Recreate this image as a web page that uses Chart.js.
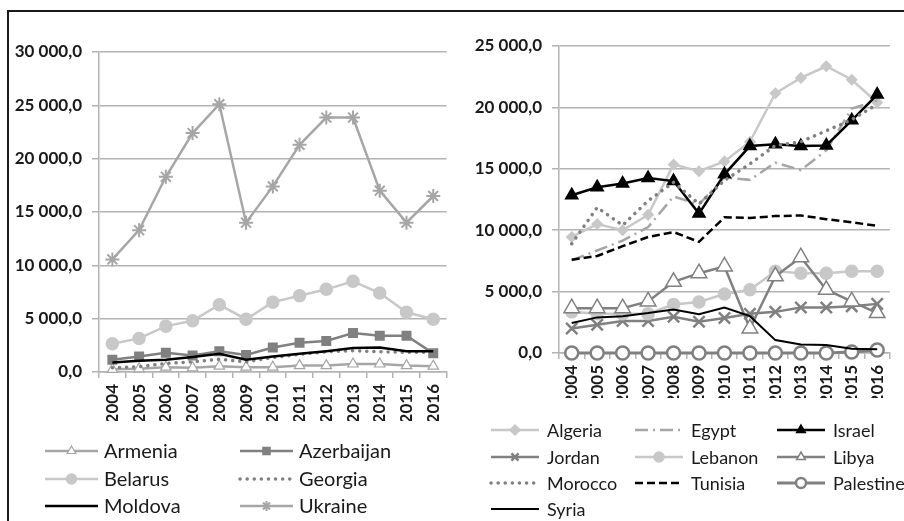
<!DOCTYPE html>
<html>
<head>
<meta charset="utf-8">
<script src="https://cdn.jsdelivr.net/npm/chart.js@4/dist/chart.umd.min.js"></script>
<style>
  body { margin: 0; width: 904px; height: 521px; overflow: hidden; background: #fff; }
  #frame { position: absolute; left: 7px; top: 10px; width: 1000px; height: 1000px;
           border-left: 2px solid #1a1a1a; border-top: 2px solid #1a1a1a; }
  canvas { position: absolute; top: 12px; }
  #left { left: 10px; }
  #right { left: 455px; }
</style>
</head>
<body>
<div id="frame"></div>
<canvas id="left" width="450" height="509"></canvas>
<canvas id="right" width="449" height="509"></canvas>
<script>
const years = ['2004', '2005', '2006', '2007', '2008', '2009', '2010', '2011', '2012', '2013', '2014', '2015', '2016'];

// left panel
const armenia    = [250, 300, 450, 400, 550, 450, 450, 600, 600, 750, 750, 600, 550];
const azerbaijan = [1150, 1450, 1800, 1550, 1950, 1600, 2300, 2750, 2900, 3650, 3400, 3400, 1750];
const belarus    = [2650, 3150, 4300, 4800, 6300, 4950, 6550, 7150, 7750, 8500, 7400, 5600, 4950];
const georgia    = [400, 500, 800, 950, 1200, 950, 1350, 1650, 1900, 2000, 1900, 1850, 1850];
const moldova    = [900, 1050, 1150, 1400, 1700, 1150, 1450, 1700, 1950, 2250, 2300, 1950, 1950];
const ukraine    = [10550, 13300, 18300, 22400, 25100, 14000, 17400, 21300, 23850, 23850, 17000, 14000, 16500];

// right panel
const algeria   = [9450, 10500, 10000, 11250, 15350, 14800, 15600, 17200, 21150, 22400, 23350, 22250, 20400];
const egypt     = [7550, 8350, 9150, 10250, 12750, 12100, 14300, 14100, 15500, 14900, 16500, 19900, 20550];
const israel    = [12850, 13500, 13800, 14250, 14000, 11350, 14550, 16850, 17000, 16850, 16900, 18950, 21050];
const jordan    = [2000, 2300, 2600, 2600, 2950, 2550, 2850, 3200, 3350, 3700, 3700, 3800, 4000];
const lebanon   = [3350, 3200, 3200, 3200, 3950, 4150, 4800, 5150, 6650, 6500, 6500, 6650, 6650];
const libya     = [3650, 3650, 3650, 4200, 5800, 6500, 7050, 2000, 6250, 7800, 5150, 4200, 3250];
const morocco   = [8900, 11850, 10400, 12400, 13900, 12150, 14050, 15400, 16900, 17200, 18100, 19000, 20250];
const tunisia   = [7600, 7900, 8700, 9450, 9850, 9050, 11050, 11000, 11150, 11200, 10900, 10650, 10350];
const palestine = [0, 0, 0, 0, 0, 0, 0, 0, 0, 0, 0, 80, 250];
const syria     = [2450, 2900, 3000, 3250, 3550, 3150, 3700, 3000, 1050, 700, 650, 350, 300];

const GRID = '#b3b3b3';
const TXT = '#1a1a1a';

function fmt(v) {
    return String(v).replace(/\B(?=(\d{3})+(?!\d))/g, ' ') + ',0';
}

function series(label, data, color, opts) {
    opts = opts || {};
    return {
        label: label,
        data: data,
        borderColor: color,
        borderWidth: opts.width || 2.5,
        borderDash: opts.dash || [],
        borderCapStyle: opts.cap || 'butt',
        pointStyle: opts.style || 'circle',
        pointRadius: opts.r || 0,
        pointBackgroundColor: opts.fill || color,
        pointBorderColor: opts.stroke || color,
        pointBorderWidth: opts.pw || 1.5,
        clip: false,
        tension: 0
    };
}

// legend drawn under each chart, line sample with its marker
const gridLegend = {
    id: 'gridLegend',
    afterDraw(chart, args, o) {
        const ctx = chart.ctx;
        ctx.save();
        chart.data.datasets.forEach((ds, i) => {
            const x0 = o.colX[i % o.colX.length];
            const y = o.rowY[Math.floor(i / o.colX.length)];
            const x1 = x0 + o.lineLen;
            ctx.beginPath();
            ctx.setLineDash(ds.borderDash);
            ctx.lineCap = ds.borderCapStyle;
            ctx.strokeStyle = ds.borderColor;
            ctx.lineWidth = ds.borderWidth;
            ctx.moveTo(x0, y);
            ctx.lineTo(x1, y);
            ctx.stroke();
            ctx.setLineDash([]);
            if (ds.pointRadius > 0) {
                ctx.fillStyle = ds.pointBackgroundColor;
                ctx.strokeStyle = ds.pointBorderColor;
                ctx.lineWidth = ds.pointBorderWidth;
                Chart.helpers.drawPoint(ctx, {
                    pointStyle: ds.pointStyle,
                    radius: Math.min(ds.pointRadius, o.markR),
                    rotation: 0,
                    borderWidth: ds.pointBorderWidth
                }, (x0 + x1) / 2, y);
            }
            ctx.fillStyle = TXT;
            ctx.font = o.font;
            ctx.textBaseline = 'middle';
            ctx.textAlign = 'left';
            ctx.fillText(ds.label, x1 + o.gap, y + 1);
        });
        ctx.restore();
    }
};

function makeChart(id, datasets, yMax, pad, yWidth, xHeight, legend) {
    // first series ends up underneath, like the original
    datasets.forEach((d, i) => { d.order = datasets.length - i; });
    return new Chart(document.getElementById(id), {
        type: 'line',
        data: { labels: years, datasets: datasets },
        plugins: [gridLegend],
        options: {
            responsive: false,
            animation: false,
            layout: { padding: pad },
            plugins: {
                legend: { display: false },
                tooltip: { enabled: false },
                gridLegend: legend
            },
            scales: {
                x: {
                    offset: true,
                    afterFit: s => { s.height = xHeight; },
                    grid: { display: true, drawOnChartArea: false, drawTicks: true, tickLength: 6, offset: true, color: GRID, lineWidth: 1.5 },
                    border: { display: true, color: GRID, width: 1.5 },
                    ticks: {
                        minRotation: 90, maxRotation: 90, autoSkip: false, padding: 6,
                        color: TXT, font: { family: 'Lato', weight: 'bold', size: 17 }
                    }
                },
                y: {
                    min: 0, max: yMax,
                    afterFit: s => { s.width = yWidth; },
                    grid: { color: GRID, lineWidth: 1.5, tickLength: 7 },
                    border: { display: true, color: GRID, width: 1.5 },
                    ticks: {
                        stepSize: 5000, padding: 10, color: TXT,
                        font: { family: 'Lato', weight: 'bold', size: 17 },
                        callback: v => fmt(v)
                    }
                }
            }
        }
    });
}

makeChart('left', [
    series('Armenia', armenia, '#a6a6a6', { style: 'triangle', r: 6, fill: '#ffffff', pw: 1.2 }),
    series('Azerbaijan', azerbaijan, '#808080', { style: 'rect', r: 6 }),
    series('Belarus', belarus, '#c8c8c8', { style: 'circle', r: 6 }),
    series('Georgia', georgia, '#808080', { width: 3.5, dash: [0.1, 7], cap: 'round' }),
    series('Moldova', moldova, '#000000', { width: 2.5 }),
    series('Ukraine', ukraine, '#a6a6a6', { style: 'star', r: 7, pw: 2 })
], 30000, { left: 0, top: 40, right: 4, bottom: 100 }, 89, 49,
   { colX: [35, 230], rowY: [439, 467, 494], lineLen: 53, gap: 6, markR: 5, font: '20px Lato' });

makeChart('right', [
    series('Algeria', algeria, '#c8c8c8', { style: 'rectRot', r: 5 }),
    series('Egypt', egypt, '#a6a6a6', { dash: [13, 5, 2, 5] }),
    series('Israel', israel, '#000000', { style: 'triangle', r: 7 }),
    series('Jordan', jordan, '#808080', { style: 'crossRot', r: 8, pw: 2.5 }),
    series('Lebanon', lebanon, '#c8c8c8', { style: 'circle', r: 6 }),
    series('Libya', libya, '#808080', { style: 'triangle', r: 9, fill: '#ffffff', pw: 1.5 }),
    series('Morocco', morocco, '#808080', { width: 3.5, dash: [0.1, 7], cap: 'round' }),
    series('Tunisia', tunisia, '#000000', { dash: [8, 4] }),
    series('Palestine', palestine, '#808080', { style: 'circle', r: 6.5, fill: '#ffffff', pw: 2.5, width: 3 }),
    series('Syria', syria, '#000000', { width: 2 })
], 25000, { left: 0, top: 34, right: 6, bottom: 123 }, 104, 45,
   { colX: [36, 180, 322], rowY: [418, 445, 471, 497], lineLen: 48, gap: 8, markR: 5, font: '18px Lato' });
</script>
</body>
</html>
